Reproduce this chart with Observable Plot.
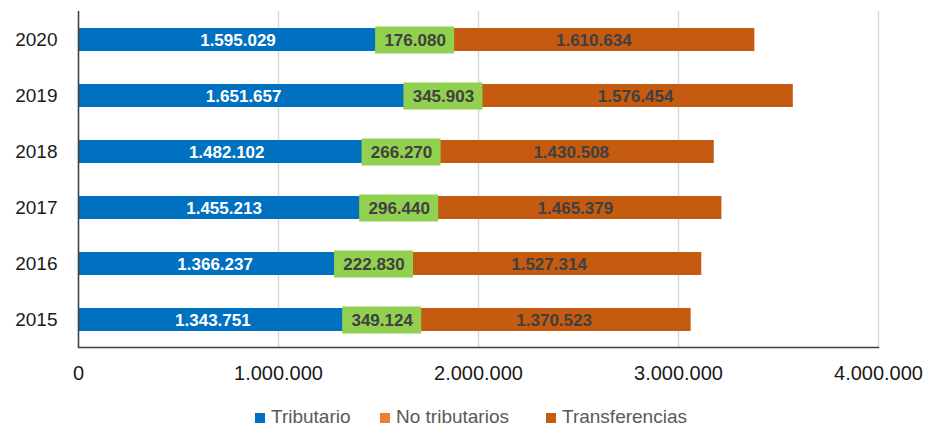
<!DOCTYPE html>
<html>
<head>
<meta charset="utf-8">
<script src="https://cdn.jsdelivr.net/npm/d3@7"></script>
<script src="https://cdn.jsdelivr.net/npm/@observablehq/plot@0.6"></script>
<style>
  html, body { margin: 0; padding: 0; background: #fff; }
  #chart { position: relative; width: 925px; }
  #chart svg { display: block; }
  g[aria-label^="x-axis"] text { font-size: 20px; fill: #1a1a1a; }
  g[aria-label^="y-axis"] text { font-size: 19px; fill: #1a1a1a; }
  #legend { position: relative; width: 925px; height: 26px; font-family: "Liberation Sans", Arial, sans-serif; font-size: 19px; color: #595959; }
  #legend .item { position: absolute; top: 9px; line-height: 16px; white-space: nowrap; }
  #legend .sw { display: inline-block; width: 10px; height: 10px; margin-right: 6px; }
</style>
</head>
<body>
<div id="chart"></div>
<div id="legend"></div>
<script>
const years = ["2015", "2016", "2017", "2018", "2019", "2020"];
const tributario = [1343751, 1366237, 1455213, 1482102, 1651657, 1595029];
const noTributarios = [349124, 222830, 296440, 266270, 345903, 176080];
const transferencias = [1370523, 1527314, 1465379, 1430508, 1576454, 1610634];
const seriesNames = ["Tributario", "No tributarios", "Transferencias"];
const seriesColors = ["#0070C0", "#ED7D31", "#C55A11"];
const xTicks = [0, 1000000, 2000000, 3000000, 4000000];

const fmt = d3.formatLocale({decimal: ",", thousands: ".", grouping: [3], currency: ["", ""]}).format(",d");

const seriesValues = [tributario, noTributarios, transferencias];
const rows = [];
years.forEach((year, i) => {
  let acc = 0;
  seriesNames.forEach((serie, s) => {
    const value = seriesValues[s][i];
    rows.push({year, serie, value, x1: acc, x2: acc + value, mid: acc + value / 2});
    acc += value;
  });
});
const noTrib = rows.filter(d => d.serie === "No tributarios");

const plot = Plot.plot({
  width: 925,
  height: 400,
  marginLeft: 78,
  marginRight: 47,
  marginTop: 11,
  marginBottom: 53,
  style: {fontFamily: "Liberation Sans, Arial, sans-serif", fontSize: "19px", background: "#fff"},
  x: {domain: [0, 4000000], ticks: xTicks, tickFormat: fmt, tickSize: 0, tickPadding: 18, label: null},
  y: {domain: years.slice().reverse(), paddingInner: 0.59, paddingOuter: 0.295, tickSize: 0, tickPadding: 21, label: null},
  color: {domain: seriesNames, range: seriesColors},
  marks: [
    Plot.ruleX(xTicks, {stroke: "#d9d9d9", strokeWidth: 1.5}),
    Plot.barX(rows, {x1: "x1", x2: "x2", y: "year", fill: "serie"}),
    Plot.barX(noTrib, {x1: "mid", x2: "mid", y: "year", fill: "#92D050", insetLeft: -39.5, insetRight: -39.5, insetTop: -1.5, insetBottom: -2.5}),
    Plot.text(rows, {x: "mid", y: "year", text: d => fmt(d.value), fill: d => d.serie === "Tributario" ? "#ffffff" : "#404040", fontWeight: "bold", fontSize: 17, dy: 1, style: "letter-spacing:0.4px"}),
    Plot.ruleX([0], {stroke: "#404040", strokeWidth: 1.5}),
    Plot.frame({anchor: "bottom", stroke: "#404040", strokeWidth: 1.5})
  ]
});
document.getElementById("chart").appendChild(plot);

const legend = document.getElementById("legend");
const lefts = [255, 380, 546];
seriesNames.forEach((name, i) => {
  const item = document.createElement("div");
  item.className = "item";
  item.style.left = lefts[i] + "px";
  const sw = document.createElement("span");
  sw.className = "sw";
  sw.style.background = seriesColors[i];
  item.appendChild(sw);
  item.appendChild(document.createTextNode(name));
  legend.appendChild(item);
});
</script>
</body>
</html>
